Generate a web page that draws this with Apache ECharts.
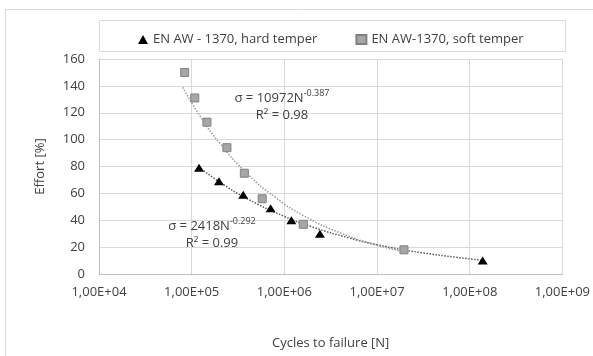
<!DOCTYPE html>
<html>
<head>
<meta charset="utf-8">
<script src="https://cdn.jsdelivr.net/npm/echarts@6/dist/echarts.min.js"></script>
<style>html,body{margin:0;padding:0;background:#fff;}#c{width:593px;height:356px;}</style>
</head>
<body>
<div id="c"></div>
<script>
// Measured points (cycles to failure N, effort %)
const hardName = 'EN AW - 1370, hard temper';
const softName = 'EN AW-1370, soft temper';
const hardN = [1.2e5, 1.97e5, 3.6e5, 7.1e5, 1.19e6, 2.42e6, 1.38e8];
const hardEffort = [79, 69, 59, 49, 40, 30, 10];
const softN = [8.4e4, 1.08e5, 1.46e5, 2.4e5, 3.7e5, 5.76e5, 1.6e6, 1.95e7];
const softEffort = [150, 131, 113, 94, 75, 56, 37, 18];
// Trendline points
const hardTrendN = [1.2e5, 2e5, 4e5, 1e6, 2e6, 5e6, 1e7, 3e7, 1.38e8];
const hardTrendY = [79.5, 68.5, 55.9, 42.8, 35.0, 26.8, 21.8, 15.9, 10.2];
const softTrendN = [8e4, 1.2e5, 2e5, 4e5, 8e5, 1.6e6, 4e6, 1e7, 2e7];
const softTrendY = [138.9, 118.7, 97.4, 74.5, 57.0, 43.5, 30.6, 21.4, 16.4];
// Axis ticks
const xTickExp = [4, 5, 6, 7, 8, 9];
const yTicks = [0, 20, 40, 60, 80, 100, 120, 140, 160];
// Annotation texts
const hardEq = ['σ = 2418N', '-0.292', 'R² = 0.99'];
const softEq = ['σ = 10972N', '-0.387', 'R² = 0.98'];

const zip = (a, b) => a.map((v, i) => [v, b[i]]);
const FONT = '"Open Sans", sans-serif';
const TXT = '#404040';

const chart = echarts.init(document.getElementById('c'), null, {renderer: 'canvas'});
const eqText = (eq, cx, cy) => ([
  {type: 'text', x: cx, y: cy, z: 100,
   style: {text: '{b|' + eq[0] + '}{s|' + eq[1] + '}', align: 'center', verticalAlign: 'middle',
     rich: {b: {fontFamily: FONT, fontSize: 13, fill: TXT},
            s: {fontFamily: FONT, fontSize: 9, fill: TXT, padding: [0, 0, 9, 0]}}}},
  {type: 'text', x: cx, y: cy + 17, z: 100,
   style: {text: eq[2], align: 'center', verticalAlign: 'middle', fontFamily: FONT, fontSize: 13, fill: TXT}}
]);

chart.setOption({
  animation: false,
  backgroundColor: '#fff',
  textStyle: {fontFamily: FONT, color: TXT},
  grid: {left: 99, right: 29, top: 59, bottom: 82},
  legend: {
    left: 133, top: 28, itemGap: 38, itemWidth: 10, itemHeight: 9,
    textStyle: {fontFamily: FONT, fontSize: 13, color: TXT},
    data: [{name: hardName, icon: 'triangle'}, {name: softName, icon: 'rect'}]
  },
  xAxis: {
    type: 'log', logBase: 10,
    min: Math.pow(10, xTickExp[0]), max: Math.pow(10, xTickExp[xTickExp.length - 1]),
    name: 'Cycles to failure [N]', nameLocation: 'middle', nameGap: 63,
    nameTextStyle: {fontFamily: FONT, fontSize: 13, color: TXT},
    axisLine: {lineStyle: {color: '#bfbfbf'}},
    axisTick: {show: false}, minorTick: {show: false},
    splitLine: {show: true, lineStyle: {color: '#d9d9d9'}},
    axisLabel: {margin: 12, fontFamily: FONT, fontSize: 13, color: TXT,
      formatter: v => { const k = Math.round(Math.log10(v)); return '1,00E+' + (k < 10 ? '0' : '') + k; }}
  },
  yAxis: {
    type: 'value', min: yTicks[0], max: yTicks[yTicks.length - 1], interval: yTicks[1] - yTicks[0],
    name: 'Effort [%]', nameLocation: 'middle', nameGap: 52,
    nameTextStyle: {fontFamily: FONT, fontSize: 13, color: TXT},
    axisLine: {show: true, lineStyle: {color: '#bfbfbf'}},
    axisTick: {show: false},
    splitLine: {lineStyle: {color: '#d9d9d9'}},
    axisLabel: {margin: 14, fontFamily: FONT, fontSize: 13, color: TXT}
  },
  graphic: [
    {type: 'rect', z: -10, silent: true, shape: {x: 5.5, y: 9.5, width: 620, height: 400},
     style: {fill: 'none', stroke: '#d9d9d9', lineWidth: 1}},
    {type: 'rect', z: -5, silent: true, shape: {x: 99.5, y: 20.5, width: 466, height: 31},
     style: {fill: '#fff', stroke: '#d9d9d9', lineWidth: 1}},
    ...eqText(softEq, 282, 98),
    ...eqText(hardEq, 212, 226)
  ],
  series: [
    {name: 'hardTrend', type: 'line', data: zip(hardTrendN, hardTrendY), smooth: true,
     showSymbol: false, silent: true, z: 1,
     lineStyle: {color: '#595959', width: 1.5, type: [1.5, 1.5]}},
    {name: 'softTrend', type: 'line', data: zip(softTrendN, softTrendY), smooth: true,
     showSymbol: false, silent: true, z: 1,
     lineStyle: {color: '#999999', width: 1.5, type: [1.5, 1.5]}},
    {name: hardName, type: 'scatter', data: zip(hardN, hardEffort), symbol: 'triangle',
     symbolSize: [10, 8], z: 3, itemStyle: {color: '#000', opacity: 1}},
    {name: softName, type: 'scatter', data: zip(softN, softEffort), symbol: 'rect',
     symbolSize: 8, z: 3, itemStyle: {color: '#a6a6a6', borderColor: '#808080', borderWidth: 1, opacity: 1}}
  ]
});
</script>
</body>
</html>
